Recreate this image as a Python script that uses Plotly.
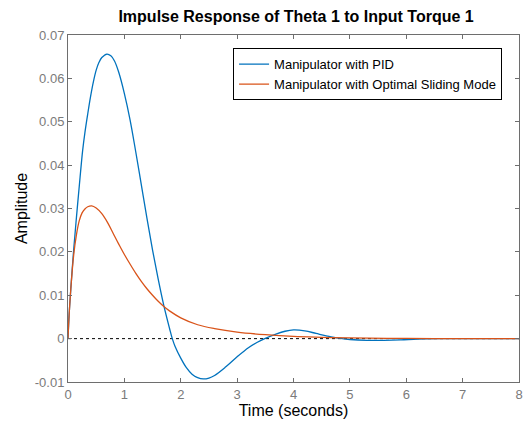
import plotly.graph_objects as go

# Data
t_pid = [0, 0.02, 0.05, 0.10, 0.15, 0.20, 0.26, 0.30, 0.35, 0.40, 0.45, 0.50, 0.55, 0.60, 0.69,
         0.76, 0.825, 0.90, 1.00, 1.10, 1.20, 1.30, 1.40, 1.50, 1.60, 1.70, 1.80, 1.85, 1.90,
         2.00, 2.10, 2.20, 2.30, 2.40, 2.50, 2.60, 2.80, 3.00, 3.20, 3.35, 3.49, 3.70, 3.85,
         4.00, 4.20, 4.40, 4.60, 4.80, 5.00, 5.30, 5.60, 5.90, 6.20, 6.60, 7.00, 8.00]
y_pid = [0, 0.0055, 0.0115, 0.0204, 0.0280, 0.0352, 0.0434, 0.0475, 0.0518, 0.0558, 0.0592,
         0.0619, 0.0637, 0.0648, 0.0656, 0.0652, 0.0640, 0.0614, 0.0565, 0.0505, 0.0432,
         0.0355, 0.0278, 0.0204, 0.0137, 0.0076, 0.0024, 0.0, -0.0018, -0.0045, -0.0067,
         -0.0082, -0.0090, -0.0093, -0.0091, -0.0085, -0.0065, -0.0042, -0.0021, -0.0009,
         0.0, 0.0011, 0.0017, 0.0020, 0.0018, 0.0012, 0.0006, 0.0001, -0.0002, -0.0004,
         -0.0004, -0.0003, -0.0001, 0.0, 0.00002, 0.0]

t_smc = [0, 0.02, 0.05, 0.10, 0.15, 0.20, 0.25, 0.30, 0.35, 0.42, 0.50, 0.60, 0.70, 0.80, 0.90,
         1.00, 1.10, 1.20, 1.30, 1.40, 1.50, 1.60, 1.70, 1.80, 2.00, 2.30, 2.60, 3.00, 3.50,
         4.00, 4.50, 5.00, 6.00, 7.00, 8.00]
y_smc = [0, 0.0055, 0.0115, 0.0192, 0.0240, 0.0272, 0.0290, 0.0299, 0.0304, 0.0306, 0.0301,
         0.0288, 0.0268, 0.0243, 0.0218, 0.0194, 0.0172, 0.0151, 0.0132, 0.0115, 0.0100,
         0.0086, 0.0074, 0.0064, 0.0048, 0.0032, 0.0023, 0.0015, 0.0009, 0.0005, 0.0003,
         0.00015, 0.00004, 0.00001, 0.0]

x_ticks = [0, 1, 2, 3, 4, 5, 6, 7, 8]
y_ticks = [-0.01, 0, 0.01, 0.02, 0.03, 0.04, 0.05, 0.06, 0.07]
y_tick_text = ["-0.01", "0", "0.01", "0.02", "0.03", "0.04", "0.05", "0.06", "0.07"]

font = "Liberation Sans, Arial, sans-serif"

fig = go.Figure()
fig.add_trace(go.Scatter(x=t_pid, y=y_pid, mode="lines", name="Manipulator with PID",
                         line=dict(color="#0072BD", width=1.3, shape="spline", smoothing=1.0)))
fig.add_trace(go.Scatter(x=t_smc, y=y_smc, mode="lines", name="Manipulator with Optimal Sliding Mode",
                         line=dict(color="#D95319", width=1.3, shape="spline", smoothing=1.0)))
fig.add_hline(y=0, line=dict(color="black", width=1, dash="dot"), layer="below")

axis_common = dict(showgrid=False, zeroline=False, showline=True, linecolor="#6e6e6e", linewidth=1,
                   mirror="ticks", ticks="inside", ticklen=4, tickcolor="#6e6e6e", automargin=False,
                   ticklabeloverflow="allow",
                   tickfont=dict(family=font, size=13, color="#7a7a7a"))

fig.update_layout(
    width=524, height=426,
    margin=dict(l=68, r=5, t=35, b=44),
    paper_bgcolor="white", plot_bgcolor="white",
    title=dict(text="<b>Impulse Response of Theta 1 to Input Torque 1</b>",
               font=dict(family=font, size=16, color="black"),
               x=0.565, xanchor="center", y=0.962, yanchor="middle"),
    xaxis=dict(range=[0, 8], tickvals=x_ticks,
               title=dict(text="Time (seconds)", font=dict(family=font, size=16, color="black"), standoff=1),
               **axis_common),
    yaxis=dict(range=[-0.01, 0.07], tickvals=y_ticks, ticktext=y_tick_text,
               title=dict(text="Amplitude", font=dict(family=font, size=16, color="black"), standoff=3),
               **axis_common),
    legend=dict(x=0.366, y=0.962, xanchor="left", yanchor="top",
                bgcolor="white", bordercolor="black", borderwidth=1,
                font=dict(family=font, size=13, color="black"),
                tracegroupgap=0, itemwidth=30),
    showlegend=True,
)

fig.write_html("out.html", config={"displayModeBar": False},
               post_script="document.body.style.margin='0';")
